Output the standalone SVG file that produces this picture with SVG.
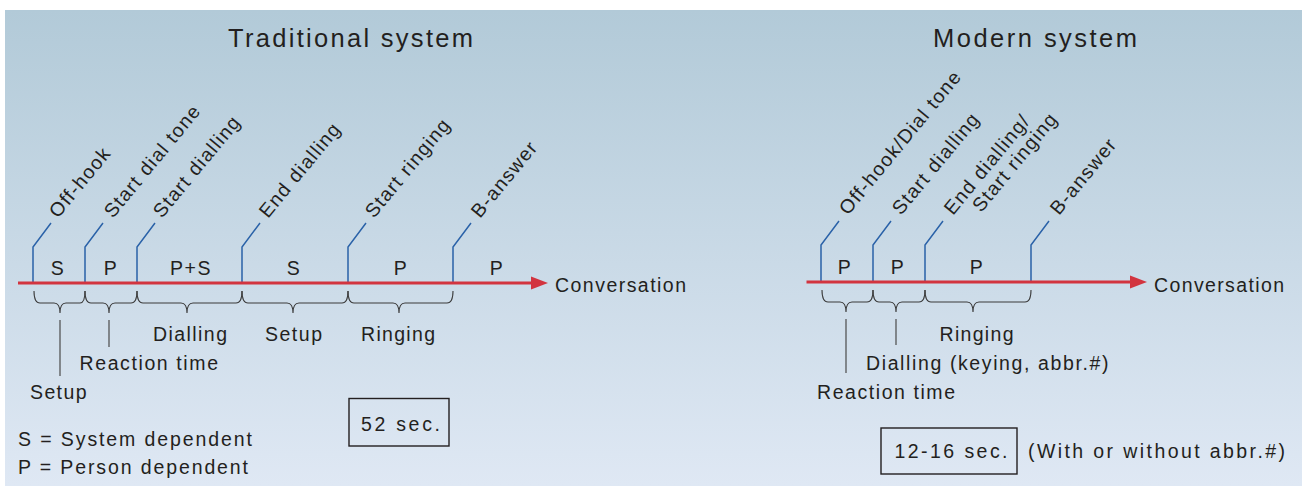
<svg xmlns="http://www.w3.org/2000/svg" width="1302" height="486" viewBox="0 0 1302 486">
<defs>
<linearGradient id="bg" x1="0" y1="0" x2="0" y2="1">
<stop offset="0" stop-color="#b2cad8"/>
<stop offset="1" stop-color="#dfe8f4"/>
</linearGradient>
<style>
text{font-family:"Liberation Sans",Arial,sans-serif;fill:#231f20;}
.t{font-size:25.5px;}
.l{font-size:19.5px;}
.seg{font-size:19.5px;text-anchor:middle;letter-spacing:1.5px;}
.rot{font-size:19.5px;letter-spacing:1.3px;}
.tick{fill:none;stroke:#2a62a8;stroke-width:1.5;}
.axis{stroke:#d2343f;stroke-width:3;}
.head{fill:#d2343f;}
.brace{fill:none;stroke:#3a3a3a;stroke-width:1.1;}
.lead{stroke:#4a4a4a;stroke-width:1.2;}
.box{fill:none;stroke:#231f20;stroke-width:1.4;}
</style>
</defs>
<rect x="5" y="10" width="1297" height="476" fill="url(#bg)"/>

<g id="traditional">
<text class="t" x="228" y="47" textLength="245" lengthAdjust="spacing">Traditional system</text>
<g id="trad-ticks">
<path class="tick" d="M33,283V247L51,223"/>
<path class="tick" d="M85,283V247L103,223"/>
<path class="tick" d="M137,283V247L155,223"/>
<path class="tick" d="M242,283V247L260,223"/>
<path class="tick" d="M348,283V247L366,223"/>
<path class="tick" d="M453,283V247L471,223"/>
</g>
<g id="trad-events">
<text class="rot" transform="translate(58,219) rotate(-50.5)">Off-hook</text>
<text class="rot" transform="translate(113,219) rotate(-50.5)">Start dial tone</text>
<text class="rot" transform="translate(162,219) rotate(-50.5)">Start dialling</text>
<text class="rot" transform="translate(268,219) rotate(-50.5)">End dialling</text>
<text class="rot" transform="translate(374,219) rotate(-50.5)">Start ringing</text>
<text class="rot" transform="translate(480,219) rotate(-50.5)">B-answer</text>
</g>
<g id="trad-segments">
<text class="seg" x="58" y="275">S</text>
<text class="seg" x="111" y="275">P</text>
<text class="seg" x="191" y="275">P+S</text>
<text class="seg" x="294" y="275">S</text>
<text class="seg" x="401" y="275">P</text>
<text class="seg" x="497" y="275">P</text>
</g>
<g id="trad-axis">
<line class="axis" x1="18" y1="283" x2="533" y2="283"/>
<polygon class="head" points="531,276.5 548,283 531,289.5"/>
<text class="l" x="555" y="291.5" textLength="131" lengthAdjust="spacing">Conversation</text>
</g>
<g id="trad-braces">
<path class="brace" d="M34,291Q34,303 40,303H54Q60,303 60,313Q60,303 66,303H80Q85,303 85,291"/>
<path class="brace" d="M85,291Q85,303 91,303H103Q109,303 109,313Q109,303 115,303H131Q137,303 137,291"/>
<path class="brace" d="M137,291Q137,303 143,303H181Q187,303 187,313Q187,303 193,303H236Q242,303 242,291"/>
<path class="brace" d="M242,291Q242,303 248,303H287Q293,303 293,313Q293,303 299,303H342Q348,303 348,291"/>
<path class="brace" d="M348,291Q348,303 354,303H393Q399,303 399,313Q399,303 405,303H447Q453,303 453,291"/>
<line class="lead" x1="60" y1="320" x2="60" y2="376"/>
<line class="lead" x1="109" y1="320" x2="109" y2="347"/>
</g>
<g id="trad-labels">
<text class="l" x="153" y="341" textLength="74" lengthAdjust="spacing">Dialling</text>
<text class="l" x="265" y="341" textLength="57" lengthAdjust="spacing">Setup</text>
<text class="l" x="361" y="341" textLength="74" lengthAdjust="spacing">Ringing</text>
<text class="l" x="79.5" y="370" textLength="138.5" lengthAdjust="spacing">Reaction time</text>
<text class="l" x="30" y="399" textLength="56.5" lengthAdjust="spacing">Setup</text>
</g>
<g id="legend">
<text class="l" x="18" y="446" textLength="234" lengthAdjust="spacing">S = System dependent</text>
<text class="l" x="18" y="474" textLength="230" lengthAdjust="spacing">P = Person dependent</text>
</g>
<g id="trad-total">
<rect class="box" x="349" y="398.5" width="100" height="47.5"/>
<text class="l" x="361" y="430.5" textLength="79" lengthAdjust="spacing">52 sec.</text>
</g>
</g>

<g id="modern">
<text class="t" x="933" y="47" textLength="204" lengthAdjust="spacing">Modern system</text>
<g id="mod-ticks">
<path class="tick" d="M821,282V245L839,221"/>
<path class="tick" d="M873,282V245L891,221"/>
<path class="tick" d="M925,282V245L943,221"/>
<path class="tick" d="M1031,282V245L1049,221"/>
</g>
<g id="mod-events">
<text class="rot" transform="translate(848,216) rotate(-50.5)">Off-hook/Dial tone</text>
<text class="rot" transform="translate(901,216) rotate(-50.5)">Start dialling</text>
<g transform="translate(953,216) rotate(-50.5)">
<text class="rot" x="0" y="0">End dialling/</text>
<text class="rot" x="20" y="20">Start ringing</text>
</g>
<text class="rot" transform="translate(1059,216) rotate(-50.5)">B-answer</text>
</g>
<g id="mod-segments">
<text class="seg" x="845" y="273.5">P</text>
<text class="seg" x="898" y="273.5">P</text>
<text class="seg" x="977" y="273.5">P</text>
</g>
<g id="mod-axis">
<line class="axis" x1="806.5" y1="282" x2="1132" y2="282"/>
<polygon class="head" points="1130,275.5 1147,282 1130,288.5"/>
<text class="l" x="1154" y="291.5" textLength="130" lengthAdjust="spacing">Conversation</text>
</g>
<g id="mod-braces">
<path class="brace" d="M822,290Q822,302 828,302H840Q846,302 846,312Q846,302 852,302H867Q873,302 873,290"/>
<path class="brace" d="M873,290Q873,302 879,302H890Q896,302 896,312Q896,302 902,302H919Q925,302 925,290"/>
<path class="brace" d="M925,290Q925,302 931,302H967Q973,302 973,312Q973,302 979,302H1025Q1031,302 1031,290"/>
<line class="lead" x1="846" y1="319" x2="846" y2="373"/>
<line class="lead" x1="896" y1="319" x2="896" y2="345"/>
</g>
<g id="mod-labels">
<text class="l" x="939.5" y="340.5" textLength="74" lengthAdjust="spacing">Ringing</text>
<text class="l" x="866" y="369.5" textLength="242.5" lengthAdjust="spacing">Dialling (keying, abbr.#)</text>
<text class="l" x="817" y="398.5" textLength="138" lengthAdjust="spacing">Reaction time</text>
</g>
<g id="mod-total">
<rect class="box" x="881" y="428" width="136" height="46"/>
<text class="l" x="894.5" y="457.5" textLength="113" lengthAdjust="spacing">12-16 sec.</text>
<text class="l" x="1028" y="457.5" textLength="257" lengthAdjust="spacing">(With or without abbr.#)</text>
</g>
</g>
</svg>
